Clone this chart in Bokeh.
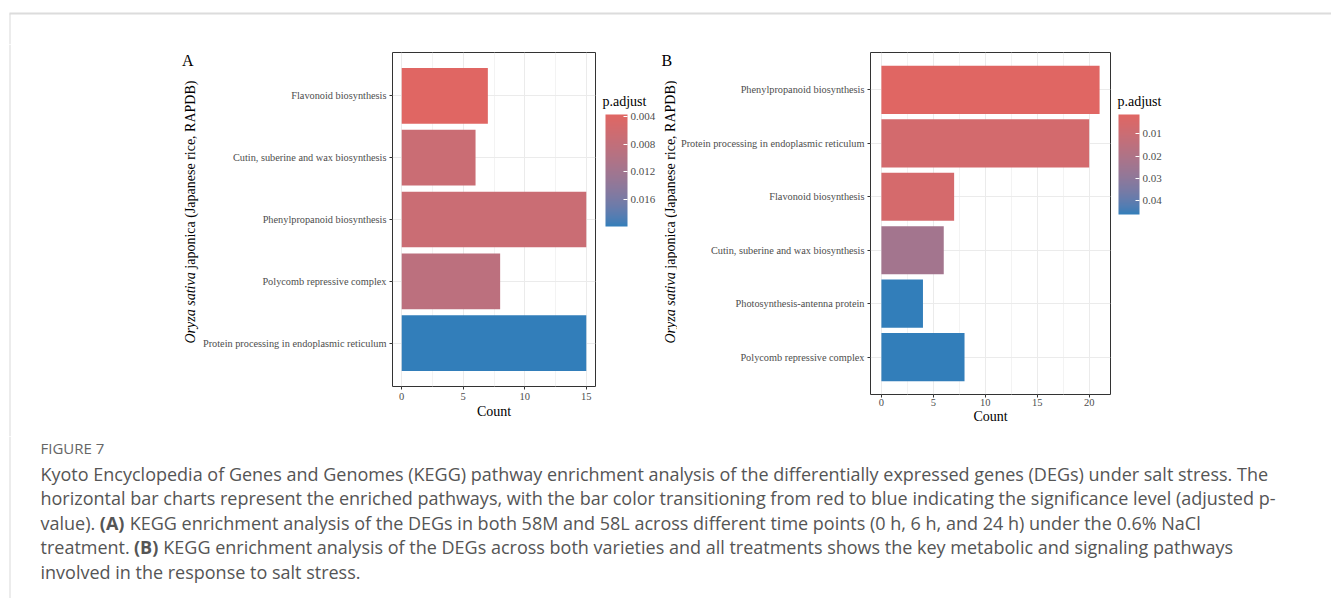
import numpy as np
from bokeh.plotting import figure
from bokeh.models import (FactorRange, Range1d, LinearColorMapper, ColorBar, FixedTicker,
                          PrintfTickFormatter, ColumnDataSource)
from bokeh.layouts import column, row
from bokeh.embed import file_html
from bokeh.resources import INLINE
from bokeh.core.properties import value

# ---------------- data ----------------
a_pathways = ["Flavonoid biosynthesis",
              "Cutin, suberine and wax biosynthesis",
              "Phenylpropanoid biosynthesis",
              "Polycomb repressive complex",
              "Protein processing in endoplasmic reticulum"]
a_counts = [7, 6, 15, 8, 15]
a_padj = [0.0037, 0.0070, 0.0070, 0.0088, 0.0200]
a_cbar_ticks = [0.004, 0.008, 0.012, 0.016]
a_count_ticks = [0, 5, 10, 15]
a_count_minor = [2.5, 7.5, 12.5]

b_pathways = ["Phenylpropanoid biosynthesis",
              "Protein processing in endoplasmic reticulum",
              "Flavonoid biosynthesis",
              "Cutin, suberine and wax biosynthesis",
              "Photosynthesis-antenna protein",
              "Polycomb repressive complex"]
b_counts = [21, 20, 7, 6, 4, 8]
b_padj = [0.00135, 0.0067, 0.0058, 0.0237, 0.0461, 0.0461]
b_cbar_ticks = [0.01, 0.02, 0.03, 0.04]
b_count_ticks = [0, 5, 10, 15, 20]
b_count_minor = [2.5, 7.5, 12.5, 17.5]

y_title_italic = "Oryza sativa"
y_title_rest = "japonica (Japanese rice, RAPDB)"
legend_title = "p.adjust"

caption_head = "FIGURE 7"
caption_lines = [
    "Kyoto Encyclopedia of Genes and Genomes (KEGG) pathway enrichment analysis of the differentially expressed genes (DEGs) under salt stress. The",
    "horizontal bar charts represent the enriched pathways, with the bar color transitioning from red to blue indicating the significance level (adjusted p-",
]
caption_l3 = ["value).", "(A)", "KEGG enrichment analysis of the DEGs in both 58M and 58L across different time points (0 h, 6 h, and 24 h) under the 0.6% NaCl"]
caption_l4 = ["treatment.", "(B)", "KEGG enrichment analysis of the DEGs across both varieties and all treatments shows the key metabolic and signaling pathways"]
caption_l5 = "involved in the response to salt stress."

SERIF = "Liberation Serif"
SANS = "Open Sans"

# ---------------- colour gradient (Lab interpolation, like ggplot) ----------------
M = np.array([[0.4124564, 0.3575761, 0.1804375],
              [0.2126729, 0.7151522, 0.0721750],
              [0.0193339, 0.1191920, 0.9503041]])
WHITE = np.array([0.95047, 1.0, 1.08883])


def _lin(c):
    c = np.asarray(c, float) / 255.0
    return np.where(c <= 0.04045, c / 12.92, ((c + 0.055) / 1.055) ** 2.4)


def _delin(c):
    c = np.clip(c, 0, None)
    c = np.where(c <= 0.0031308, 12.92 * c, 1.055 * np.power(c, 1 / 2.4) - 0.055)
    return np.clip(np.round(c * 255), 0, 255).astype(int)


def hex2rgb(h):
    h = h.lstrip("#")
    return [int(h[i:i + 2], 16) for i in (0, 2, 4)]


def rgb2lab(rgb):
    xyz = M @ _lin(rgb) / WHITE
    d = 6 / 29
    f = np.where(xyz > d ** 3, np.cbrt(xyz), xyz / (3 * d ** 2) + 4 / 29)
    return np.array([116 * f[1] - 16, 500 * (f[0] - f[1]), 200 * (f[1] - f[2])])


def lab2hex(lab):
    L, a, b = lab
    fy = (L + 16) / 116
    f = np.array([fy + a / 500, fy, fy - b / 200])
    d = 6 / 29
    xyz = np.where(f > d, f ** 3, 3 * d ** 2 * (f - 4 / 29)) * WHITE
    rgb = _delin(np.linalg.solve(M, xyz))
    return "#%02x%02x%02x" % tuple(rgb)


LOW_COL, HIGH_COL = "#e06663", "#327eba"
lab_lo, lab_hi = rgb2lab(hex2rgb(LOW_COL)), rgb2lab(hex2rgb(HIGH_COL))
# palette from high p (blue) to low p (red); mapper low/high swapped so that the
# colour bar shows the small values (red) on top, as in the reference
PALETTE = [lab2hex((1 - t) * lab_lo + t * lab_hi) for t in np.linspace(1, 0, 256)]

ROW_H = 392
BORDER = "#d9d9d9"


def no_align(f):
    try:
        f.frame_align = False
    except Exception:
        pass
    return f


def blank(w, h):
    f = figure(width=w, height=h, output_backend="svg", toolbar_location=None,
               x_range=Range1d(0, w), y_range=Range1d(0, h),
               x_axis_location=None, y_axis_location=None,
               min_border=0, min_border_left=0, min_border_right=0,
               min_border_top=0, min_border_bottom=0)
    f.outline_line_color = None
    f.xgrid.visible = False
    f.ygrid.visible = False
    f.background_fill_color = "white"
    f.border_fill_color = "white"
    return no_align(f)


def make_mapper(padj):
    return LinearColorMapper(palette=PALETTE, low=max(padj), high=min(padj))


def make_panel(pathways, counts, padj, mapper, xticks, xminor,
               width, mb_left, mb_right, mb_top, mb_bottom, lab_standoff, title_standoff):
    factors = list(reversed(pathways))
    xmax = max(counts)
    p = figure(width=width, height=ROW_H, output_backend="svg", toolbar_location=None,
               y_range=FactorRange(factors=factors, range_padding=0.2,
                                   range_padding_units="absolute"),
               x_range=Range1d(-0.05 * xmax, 1.05 * xmax),
               min_border_left=mb_left, min_border_right=mb_right,
               min_border_top=mb_top, min_border_bottom=mb_bottom)
    no_align(p)
    p.background_fill_color = "white"
    p.border_fill_color = "white"
    p.outline_line_color = "#333333"
    p.outline_line_width = 1

    src = ColumnDataSource(dict(path=pathways, count=counts, padj=padj))
    p.hbar(y="path", left=0, right="count", height=0.9, source=src,
           fill_color={"field": "padj", "transform": mapper}, line_color=None)

    p.xgrid.grid_line_color = "#ebebeb"
    p.xgrid.minor_grid_line_color = "#f3f3f3"
    p.xgrid.minor_grid_line_width = 1
    p.ygrid.grid_line_color = "#ebebeb"
    p.xaxis.ticker = FixedTicker(ticks=xticks, minor_ticks=xminor)

    for ax in (p.xaxis[0], p.yaxis[0]):
        ax.axis_line_color = None
        ax.major_tick_line_color = "#333333"
        ax.major_tick_in = 0
        ax.major_tick_out = 3
        ax.minor_tick_line_color = None
        ax.major_label_text_font = SERIF
        ax.major_label_text_color = "#4d4d4d"
        ax.major_label_standoff = 3
    p.yaxis.axis_label = None
    p.yaxis.axis_label_standoff = 0
    p.yaxis.major_label_text_font_size = "10.3px"
    p.xaxis.major_label_text_font_size = "10.5px"
    p.xaxis.axis_label = "Count"
    p.xaxis.axis_label_text_font = SERIF
    p.xaxis.axis_label_text_font_size = "14px"
    p.xaxis.axis_label_text_font_style = "normal"
    p.xaxis.axis_label_text_color = "black"
    p.xaxis.axis_label_standoff = title_standoff
    p.xaxis.major_label_standoff = lab_standoff
    return p


def make_strip(w, letter, letter_x, title_x, border=False):
    s = blank(w, ROW_H)
    if border:
        s.segment(x0=[9.5], y0=[0], x1=[9.5], y1=[ROW_H], line_color=BORDER, line_width=1)
    s.text(x=[letter_x], y=[ROW_H - 16], text=[letter], text_font=value(SERIF),
           text_font_size="16px", text_align="left", text_baseline="alphabetic",
           text_color="black")
    base = ROW_H - 299
    s.text(x=[title_x], y=[base], text=[y_title_italic], angle=np.pi / 2,
           text_font=value(SERIF), text_font_style="italic", text_font_size="14px",
           text_align="left", text_baseline="middle", text_color="black")
    s.text(x=[title_x], y=[base + 74.8], text=[y_title_rest], angle=np.pi / 2,
           text_font=value(SERIF), text_font_size="14px",
           text_align="left", text_baseline="middle", text_color="black")
    return s


def make_legend(w, mapper, cticks, cfmt, bar_x, bar_top, bar_w, bar_h):
    g = blank(w, ROW_H)
    g.text(x=[2], y=[ROW_H - 57], text=[legend_title], text_font=value(SERIF),
           text_font_size="14px", text_align="left", text_baseline="middle",
           text_color="black")
    cb = ColorBar(color_mapper=mapper, ticker=FixedTicker(ticks=cticks),
                  formatter=PrintfTickFormatter(format=cfmt),
                  location=(bar_x, ROW_H - bar_top - bar_h), width=bar_w, height=bar_h,
                  padding=0, title=None,
                  major_label_text_font=SERIF, major_label_text_font_size="11px",
                  major_label_text_color="#4d4d4d", label_standoff=3,
                  major_tick_line_color="white", major_tick_in=4, major_tick_out=0,
                  minor_tick_line_color=None, bar_line_color=None,
                  border_line_color=None, background_fill_color=None)
    g.add_layout(cb)
    return g


# ---------------- page ----------------
top = blank(1331, 44)
top.segment(x0=[9], y0=[31], x1=[1331], y1=[31], line_color="#dcdcdc", line_width=2)
top.segment(x0=[9.5], y0=[0], x1=[9.5], y1=[31], line_color=BORDER, line_width=1)

mapA = make_mapper(a_padj)
mapB = make_mapper(b_padj)

# row spans page y 44..436; frames A: 52..386, B: 52..394
stripA = make_strip(199, "A", 181.5, 190, border=True)
pA = make_panel(a_pathways, a_counts, a_padj, mapA, a_count_ticks, a_count_minor,
                width=401, mb_left=192, mb_right=5, mb_top=8, mb_bottom=ROW_H - 8 - 334,
                lab_standoff=2, title_standoff=1)
legA = make_legend(56, mapA, a_cbar_ticks, "%.3f", 5, 70, 22, 112)

stripB = make_strip(21, "B", 5, 14)
pB = make_panel(b_pathways, b_counts, b_padj, mapB, b_count_ticks, b_count_minor,
                width=438, mb_left=193, mb_right=5, mb_top=8, mb_bottom=ROW_H - 8 - 342,
                lab_standoff=0, title_standoff=0)
legB = make_legend(60, mapB, b_cbar_ticks, "%.2f", 3, 70, 21, 100)

CAP_H = 598 - 44 - ROW_H
cap = blank(1331, CAP_H)
cap.segment(x0=[9.5], y0=[0], x1=[9.5], y1=[CAP_H], line_color=BORDER, line_width=1)
CAP_COL = "#555555"
T0 = 436  # page y of caption top


def cy(page_y):
    return CAP_H - (page_y - T0)


cap.text(x=[40], y=[cy(447)], text=[caption_head], text_font=value(SANS), text_font_size="15px",
         text_color="#666666", text_baseline="middle", text_align="left")
cap.text(x=[40, 40], y=[cy(473), cy(497)], text=caption_lines, text_font=value(SANS),
         text_font_size="18px", text_color=CAP_COL, text_baseline="middle", text_align="left")
cap.text(x=[40, 129.2], y=[cy(522), cy(522)], text=[caption_l3[0], caption_l3[2]],
         text_font=value(SANS), text_font_size="18px", text_color=CAP_COL,
         text_baseline="middle", text_align="left")
cap.text(x=[99.3], y=[cy(522)], text=[caption_l3[1]], text_font=value(SANS),
         text_font_style="bold", text_font_size="18px", text_color=CAP_COL,
         text_baseline="middle", text_align="left")
cap.text(x=[40, 162.8], y=[cy(546), cy(546)], text=[caption_l4[0], caption_l4[2]],
         text_font=value(SANS), text_font_size="18px", text_color=CAP_COL,
         text_baseline="middle", text_align="left")
cap.text(x=[133.5], y=[cy(546)], text=[caption_l4[1]], text_font=value(SANS),
         text_font_style="bold", text_font_size="18px", text_color=CAP_COL,
         text_baseline="middle", text_align="left")
cap.text(x=[40], y=[cy(571)], text=[caption_l5], text_font=value(SANS),
         text_font_size="18px", text_color=CAP_COL, text_baseline="middle", text_align="left")

layout = column(top, row(stripA, pA, legA, stripB, pB, legB), cap)

open("out.html", "w").write(file_html(layout, INLINE))
